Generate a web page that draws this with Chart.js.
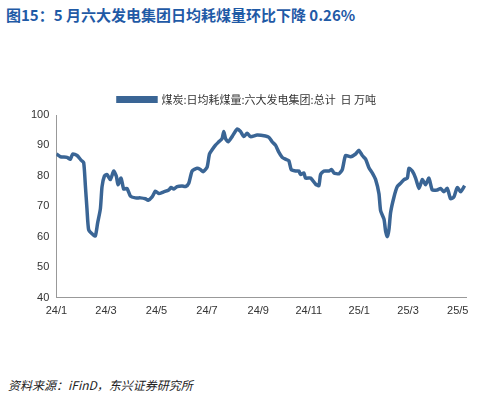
<!DOCTYPE html>
<html><head><meta charset="utf-8">
<script src="https://cdn.jsdelivr.net/npm/chart.js@4/dist/chart.umd.min.js"></script>
<style>
body{margin:0;width:492px;height:400px;background:#fff;position:relative;font-family:"Noto Sans CJK SC",sans-serif;}
#t{position:absolute;left:6px;top:4px;font-size:15px;font-weight:bold;color:#1f5aa6;}
#s{position:absolute;left:8px;top:376px;font-size:12px;font-style:italic;color:#222;}
#w{position:absolute;left:0;top:80px;width:492px;height:250px;}
</style></head><body>
<div id="t">图15：5 月六大发电集团日均耗煤量环比下降 0.26%</div>
<div id="w"><canvas id="c"></canvas></div>
<div id="s">资料来源：iFinD，东兴证券研究所</div>
<script>
const days=[0,4.9,12.9,16.9,19.8,25,29.8,33,35,37,39,43.1,47.1,49.9,53.2,55.2,58,61.2,65.2,69.3,72.5,74.5,78.2,81.4,85.4,89.5,95.5,101.6,107.6,110.8,115.7,119.7,123.7,129.8,135.8,138.6,141.9,145.9,151.9,156,160,164,170.1,174.1,177.4,182.2,185,188.2,192.3,196.3,200.3,202.3,204.4,207.6,212.4,218.5,222.5,226.5,230.5,234.6,242.6,252.7,256.7,260.8,264.8,268.8,272.9,276.9,280.9,283.8,289,293,295.1,299.1,301.1,307.2,313.2,317.2,319.3,323.3,329.3,332.6,335.4,341.4,345.5,349.5,355.6,361.6,365.6,369.7,373.7,377.7,381.7,385.8,389.8,391.8,395.9,397.9,399.9,401.9,403.9,408,412,416,420.1,424.1,426.1,430.1,434.1,438.2,442.2,446.2,450.2,454.3,460.3,464.3,468.4,472.4,476.4,480.4,484.4,488.5,493.3];
const values=[87.2,86.3,86.1,85.5,87.2,86.7,85.2,84.4,77.1,69.2,62.4,61.0,60.3,64.6,69.2,76.5,79.9,80.5,78.8,81.6,79.9,77.1,79.3,75.7,75.9,73.4,72.8,72.8,72.5,72.0,73.1,75.0,74.2,74.8,75.4,76.2,75.7,76.5,76.7,76.5,77.6,81.6,82.5,82.1,81.4,82.9,87.2,88.6,90.1,91.2,92.3,94.6,92.3,91.2,92.9,95.4,94.6,92.9,94.0,92.9,93.4,93.1,92.7,91.2,90.1,87.8,86.1,85.5,85,82.1,81.6,81.6,80.5,81,79.3,79.3,77.3,76.8,80.5,81.6,81.6,82.1,81,80.7,82.1,86.7,86.3,87.2,88.4,86.7,85.5,82.7,81,78.8,74.2,68.6,65.8,61.8,60.1,62.4,68,73.1,76.5,77.6,78.8,79.3,82.5,81.6,79.3,75.9,78.8,77.1,79.3,75.4,75.4,75.9,74.8,75.9,72.5,73.1,76.2,74.8,76.8];
const tickDays=[0,60,121,182,244,305,366,425,485];
const tickLabels=['24/1','24/3','24/5','24/7','24/9','24/11','25/1','25/3','25/5'];
const seriesName='煤炭:日均耗煤量:六大发电集团:总计  日 万吨';
new Chart(document.getElementById('c'),{type:'line',
data:{datasets:[{label:seriesName,data:days.map((d,i)=>({x:d,y:values[i]})),borderColor:'#3a6595',backgroundColor:'#3a6595',borderWidth:3.5,pointRadius:0,tension:0.2}]},
options:{responsive:true,maintainAspectRatio:false,animation:false,
layout:{padding:{left:28,right:26,top:0,bottom:9}},
plugins:{legend:{labels:{boxWidth:38,boxHeight:3.5,color:'#333',font:{size:11,family:'Noto Sans CJK SC'},padding:14}},tooltip:{enabled:false}},
scales:{x:{type:'linear',min:0,max:495,grid:{display:false,drawTicks:true,tickLength:4,tickColor:'#999'},border:{color:'#999'},
afterBuildTicks:a=>{a.ticks=tickDays.map(v=>({value:v}));},
ticks:{autoSkip:false,maxRotation:0,color:'#333',font:{size:11,family:'Liberation Sans'},callback:(v)=>{const i=tickDays.indexOf(v);return i>=0?tickLabels[i]:'';}}},
y:{min:40,max:100,grid:{display:false,tickLength:4,tickColor:'#999'},border:{color:'#999'},ticks:{stepSize:10,color:'#333',font:{size:11,family:'Liberation Sans'}}}}}});
</script></body></html>
